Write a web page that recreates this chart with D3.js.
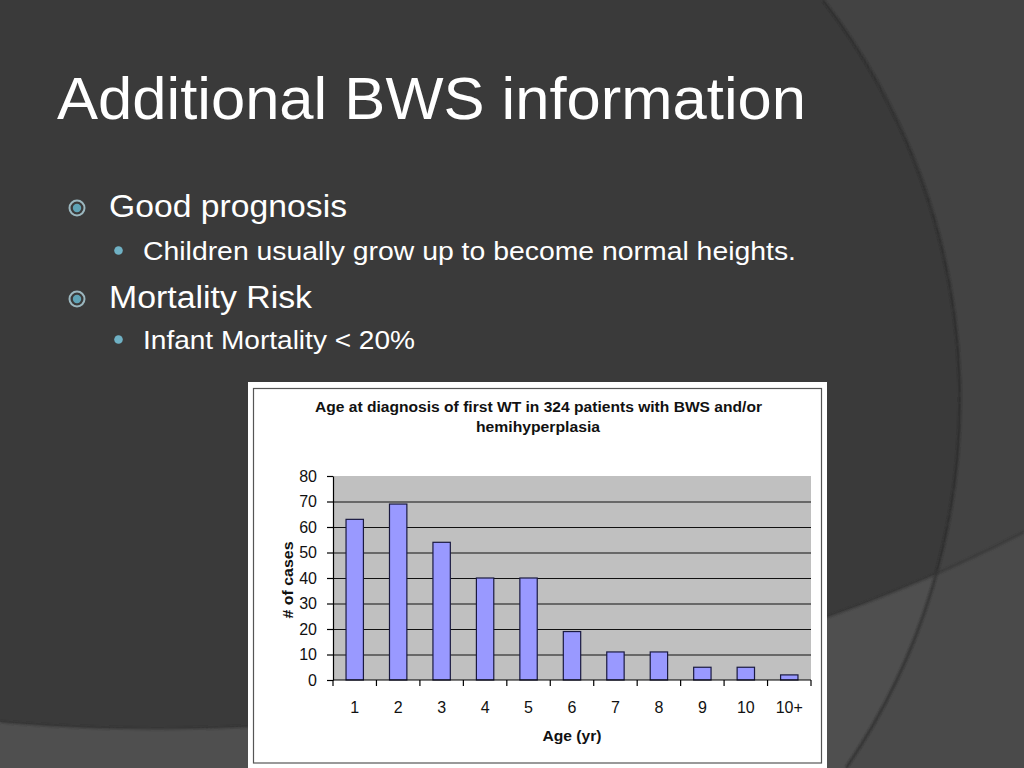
<!DOCTYPE html>
<html lang="en">
<head>
<meta charset="UTF-8">
<title>Additional BWS information</title>
<script src="https://d3js.org/d3.v7.min.js"></script>
<style>
  body { margin: 0; background: #3a3a3a; }
  svg { display: block; }
  text { font-family: "Liberation Sans", Arial, sans-serif; }
</style>
</head>
<body>
<svg width="1024" height="768"></svg>
<script>
// chart data
const categories = ["1", "2", "3", "4", "5", "6", "7", "8", "9", "10", "10+"];
const cases = [63, 69, 54, 40, 40, 19, 11, 11, 5, 5, 2];
const yTicks = [0, 10, 20, 30, 40, 50, 60, 70, 80];
const gridTicks = [10, 20, 30, 40, 50, 60, 70];

const slideTitle = "Additional BWS information";
const chartTitle = ["Age at diagnosis of first WT in 324 patients with BWS and/or", "hemihyperplasia"];

const svg = d3.select("svg");

// --- slide background ---
svg.append("rect").attr("width", 1024).attr("height", 768).attr("fill", "#3a3a3a");

const arcPath = "M823,0 A652,652 0 0,1 846,768 L1024,768 L1024,0 Z";
const bandPath = "M0,722 C300,748 700,700 1024,532 L1024,768 L0,768 Z";

const defs = svg.append("defs");
defs.append("clipPath").attr("id", "rightClip").append("path").attr("d", arcPath);
defs.append("filter").attr("id", "soft")
  .append("feGaussianBlur").attr("stdDeviation", 1.2);

svg.append("path").attr("d", arcPath).attr("fill", "#434343");
svg.append("path").attr("d", bandPath).attr("fill", "#4f4f4f");
svg.append("path").attr("d", bandPath).attr("fill", "#4a4a4a").attr("clip-path", "url(#rightClip)");
svg.append("path").attr("d", "M823,0 A652,652 0 0,1 846,768")
  .attr("fill", "none").attr("stroke", "#2c2c2c").attr("stroke-width", 2).attr("filter", "url(#soft)");
svg.append("path").attr("d", "M0,722 C300,748 700,700 1024,532")
  .attr("fill", "none").attr("stroke", "#333").attr("stroke-width", 1.5).attr("filter", "url(#soft)");

// --- slide text ---
svg.append("text").attr("x", 57).attr("y", 119)
  .attr("font-size", 60).attr("fill", "#fff")
  .attr("textLength", 749).attr("lengthAdjust", "spacingAndGlyphs")
  .text(slideTitle);

const bullets = [
  { level: 1, text: "Good prognosis", y: 217, w: 238 },
  { level: 2, text: "Children usually grow up to become normal heights.", y: 260, w: 653 },
  { level: 1, text: "Mortality Risk", y: 308, w: 203 },
  { level: 2, text: "Infant Mortality < 20%", y: 349, w: 272 }
];

bullets.forEach(b => {
  if (b.level === 1) {
    svg.append("circle").attr("cx", 77).attr("cy", b.y - 9).attr("r", 7.5)
      .attr("fill", "none").attr("stroke", "#9bb7bf").attr("stroke-width", 2);
    svg.append("circle").attr("cx", 77).attr("cy", b.y - 9).attr("r", 4.2).attr("fill", "#5fa3b6");
  } else {
    svg.append("circle").attr("cx", 118.5).attr("cy", b.y - 9.5).attr("r", 4.3).attr("fill", "#6fb1c4");
  }
  svg.append("text")
    .attr("x", b.level === 1 ? 109 : 143).attr("y", b.y)
    .attr("font-size", b.level === 1 ? 31 : 25).attr("fill", "#fff")
    .attr("textLength", b.w).attr("lengthAdjust", "spacingAndGlyphs")
    .text(b.text);
});

// --- chart image box ---
svg.append("rect").attr("x", 248).attr("y", 382).attr("width", 579).attr("height", 390).attr("fill", "#fff");
svg.append("rect").attr("x", 253.5).attr("y", 388.5).attr("width", 568).attr("height", 374.5)
  .attr("fill", "none").attr("stroke", "#555").attr("stroke-width", 1.2);

const plotLeft = 333, plotRight = 811, plotTop = 476, plotBottom = 680;

const x = d3.scaleBand()
  .domain(categories)
  .range([plotLeft, plotRight])
  .paddingInner(0.6)
  .paddingOuter(0.3);

const y = d3.scaleLinear()
  .domain([0, 80])
  .range([plotBottom, plotTop]);

// plot area
svg.append("rect").attr("x", plotLeft).attr("y", plotTop)
  .attr("width", plotRight - plotLeft).attr("height", plotBottom - plotTop)
  .attr("fill", "#c0c0c0");

// gridlines
const grid = svg.append("g").attr("transform", `translate(${plotLeft},0)`)
  .call(d3.axisLeft(y).tickValues(gridTicks).tickSize(-(plotRight - plotLeft)).tickFormat(""));
grid.select(".domain").remove();
grid.selectAll("line").attr("stroke", "#111").attr("stroke-width", 1.2);

// bars
svg.selectAll(".bar")
  .data(cases)
  .enter()
  .append("rect")
  .attr("class", "bar")
  .attr("x", (_, i) => x(categories[i]))
  .attr("y", d => y(d))
  .attr("width", x.bandwidth())
  .attr("height", d => y(0) - y(d))
  .attr("fill", "#9999ff")
  .attr("stroke", "#1a1a40")
  .attr("stroke-width", 1.2);

// y axis
const yAxis = svg.append("g").attr("transform", `translate(${plotLeft},0)`)
  .call(d3.axisLeft(y).tickValues(yTicks).tickSize(6).tickSizeOuter(0).tickPadding(10));
yAxis.select(".domain").attr("stroke", "#000").attr("stroke-width", 1.2);
yAxis.selectAll("line").attr("stroke", "#000").attr("stroke-width", 1.2);
yAxis.selectAll("text").attr("font-size", 16).attr("fill", "#111")
  .attr("font-family", "'Liberation Sans', Arial, sans-serif");

// x axis line + category boundary ticks
svg.append("line").attr("x1", plotLeft).attr("x2", plotRight).attr("y1", plotBottom).attr("y2", plotBottom)
  .attr("stroke", "#000").attr("stroke-width", 1.2);
const bounds = categories.map(c => x(c) - x.step() * 0.3).concat([plotRight]);
svg.selectAll(".xtick").data(bounds).enter().append("line")
  .attr("x1", d => d).attr("x2", d => d)
  .attr("y1", plotBottom).attr("y2", plotBottom + 6)
  .attr("stroke", "#000").attr("stroke-width", 1.2);

svg.selectAll(".xlabel").data(categories).enter().append("text")
  .attr("x", d => x(d) + x.bandwidth() / 2)
  .attr("y", 713)
  .attr("text-anchor", "middle")
  .attr("font-size", 16).attr("fill", "#111")
  .text(d => d);

// axis titles
svg.append("text").attr("x", 572).attr("y", 741)
  .attr("text-anchor", "middle").attr("font-size", 14.5).attr("font-weight", "bold").attr("fill", "#111")
  .attr("textLength", 59).attr("lengthAdjust", "spacingAndGlyphs")
  .text("Age (yr)");

svg.append("text")
  .attr("transform", "translate(293,580) rotate(-90)")
  .attr("text-anchor", "middle").attr("font-size", 14.5).attr("font-weight", "bold").attr("fill", "#111")
  .attr("textLength", 77).attr("lengthAdjust", "spacingAndGlyphs")
  .text("# of cases");

// chart title
svg.append("text").attr("x", 538.5).attr("y", 412)
  .attr("text-anchor", "middle").attr("font-size", 14).attr("font-weight", "bold").attr("fill", "#111")
  .attr("textLength", 447).attr("lengthAdjust", "spacingAndGlyphs")
  .text(chartTitle[0]);
svg.append("text").attr("x", 538).attr("y", 432)
  .attr("text-anchor", "middle").attr("font-size", 14).attr("font-weight", "bold").attr("fill", "#111")
  .attr("textLength", 124).attr("lengthAdjust", "spacingAndGlyphs")
  .text(chartTitle[1]);
</script>
</body>
</html>
